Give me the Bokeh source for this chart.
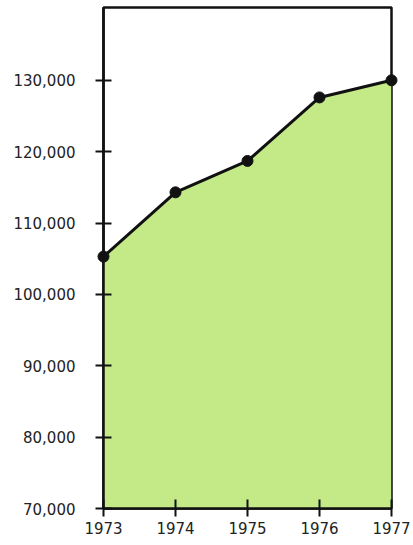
from bokeh.plotting import figure
from bokeh.models import Range1d, FixedTicker, NumeralTickFormatter
from bokeh.embed import file_html
from bokeh.resources import INLINE

years = [1973, 1974, 1975, 1976, 1977]
values = [105300, 114300, 118700, 127600, 130000]
y_ticks = [70000, 80000, 90000, 100000, 110000, 120000, 130000]
y_base = 70000

p = figure(width=413, height=545, output_backend="svg", toolbar_location=None,
           x_range=Range1d(1973, 1977), y_range=Range1d(70000, 140200),
           min_border_left=103, min_border_right=22, min_border_top=7, min_border_bottom=37)

p.background_fill_color = "white"
p.border_fill_color = "white"
p.xgrid.visible = False
p.ygrid.visible = False
p.outline_line_color = "#111111"
p.outline_line_width = 2.5

p.varea(x=years, y1=[y_base] * len(years), y2=values, fill_color="#c4ea88")
ln = p.line(years, values, line_color="#111111", line_width=3)
ln.level = "overlay"
sc = p.scatter(years, values, size=11, fill_color="#111111", line_color="#111111")
sc.level = "overlay"

for ax in (p.xaxis[0], p.yaxis[0]):
    ax.axis_line_color = "#111111"
    ax.axis_line_width = 2.5
    ax.major_tick_line_color = "#111111"
    ax.major_tick_line_width = 2
    ax.minor_tick_line_color = None
    ax.major_label_text_font = "DejaVu Sans"
    ax.major_label_text_font_size = "15px"
    ax.major_label_text_color = "#222222"

p.yaxis.ticker = FixedTicker(ticks=y_ticks)
p.yaxis.formatter = NumeralTickFormatter(format="0,0")
p.yaxis.major_tick_in = 8
p.yaxis.major_tick_out = 8
p.yaxis.major_label_standoff = 20

p.xaxis.ticker = FixedTicker(ticks=years)
p.xaxis.major_tick_in = 9
p.xaxis.major_tick_out = 8
p.xaxis.major_label_standoff = 5

open("out.html", "w").write(file_html(p, INLINE))
